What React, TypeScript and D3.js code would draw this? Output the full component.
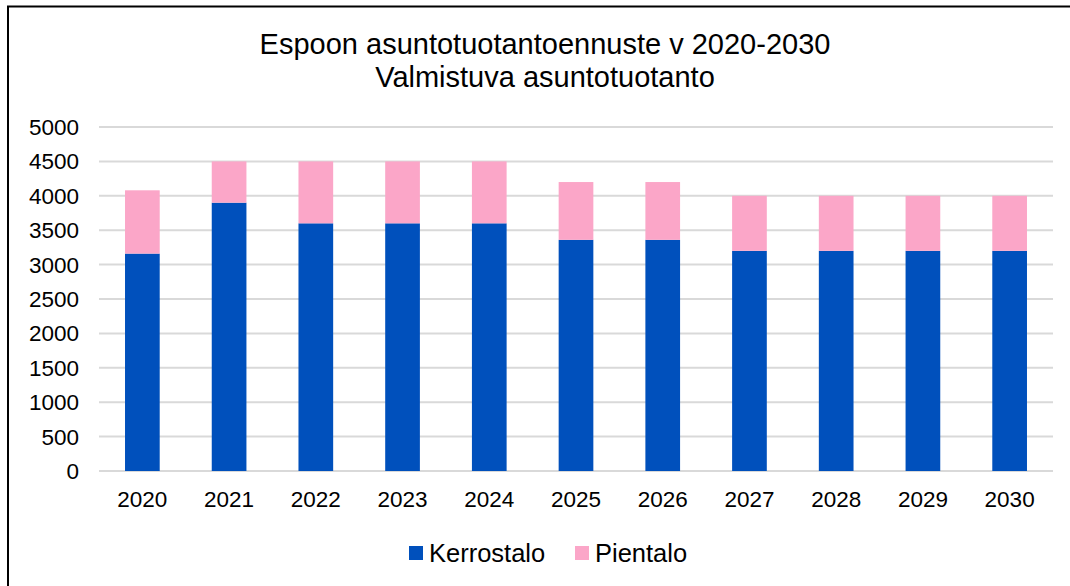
import React, { useEffect, useRef } from "react";
import * as d3 from "d3";

const years = ["2020", "2021", "2022", "2023", "2024", "2025", "2026", "2027", "2028", "2029", "2030"];
const kerrostalo = [3160, 3900, 3600, 3600, 3600, 3360, 3360, 3200, 3200, 3200, 3200];
const pientalo = [920, 600, 900, 900, 900, 840, 840, 800, 800, 800, 800];
const yTicks = [0, 500, 1000, 1500, 2000, 2500, 3000, 3500, 4000, 4500, 5000];
const seriesNames = ["Kerrostalo", "Pientalo"];
const colors = ["#0050BC", "#FBA6C8"];

const W = 1070;
const H = 586;
const font = "Arial, 'Liberation Sans', sans-serif";

export default function App() {
  const ref = useRef<SVGSVGElement>(null);

  useEffect(() => {
    const svg = d3.select(ref.current);
    svg.selectAll("*").remove();

    const margin = { top: 127, left: 99, right: 17, bottom: 115 };
    const innerW = W - margin.left - margin.right;
    const innerH = H - margin.top - margin.bottom;

    // outer frame (runs off the page on right/bottom)
    svg.append("rect")
      .attr("x", 8).attr("y", 6.5)
      .attr("width", 1200).attr("height", 800)
      .attr("fill", "white").attr("stroke", "#000").attr("stroke-width", 2);

    const title = svg.append("text")
      .attr("text-anchor", "middle")
      .attr("font-family", font).attr("font-size", 29).attr("fill", "#000");
    title.append("tspan").attr("x", 545).attr("y", 54).text("Espoon asuntotuotantoennuste v 2020-2030");
    title.append("tspan").attr("x", 545).attr("y", 87).text("Valmistuva asuntotuotanto");

    const x = d3.scaleBand().domain(years).range([0, innerW]).paddingInner(0.6).paddingOuter(0.3);
    const y = d3.scaleLinear().domain([0, 5000]).range([innerH, 0]);

    const g = svg.append("g").attr("transform", `translate(${margin.left},${margin.top})`);

    g.selectAll(".grid")
      .data(yTicks)
      .enter().append("line")
      .attr("x1", 0).attr("x2", innerW)
      .attr("y1", d => y(d)).attr("y2", d => y(d))
      .attr("stroke", "#D9D9D9").attr("stroke-width", 2);

    g.selectAll(".ylab")
      .data(yTicks)
      .enter().append("text")
      .attr("x", -20).attr("y", d => y(d) + 8)
      .attr("text-anchor", "end")
      .attr("font-family", font).attr("font-size", 22.5).attr("fill", "#000")
      .text(d => d);

    const rows = years.map((yr, i) => ({ year: yr, Kerrostalo: kerrostalo[i], Pientalo: pientalo[i] }));
    const stack = d3.stack<any>().keys(seriesNames)(rows);

    stack.forEach((s, si) => {
      g.selectAll(`.bar${si}`)
        .data(s)
        .enter().append("rect")
        .attr("x", d => x(d.data.year)!)
        .attr("width", x.bandwidth())
        .attr("y", d => y(d[1]))
        .attr("height", d => y(d[0]) - y(d[1]))
        .attr("fill", colors[si]);
    });

    g.selectAll(".xlab")
      .data(years)
      .enter().append("text")
      .attr("x", d => x(d)! + x.bandwidth() / 2)
      .attr("y", innerH + 36)
      .attr("text-anchor", "middle")
      .attr("font-family", font).attr("font-size", 22.5).attr("fill", "#000")
      .text(d => d);

    // legend
    const legendX = [409, 575];
    seriesNames.forEach((name, i) => {
      svg.append("rect")
        .attr("x", legendX[i]).attr("y", 546)
        .attr("width", 14).attr("height", 14)
        .attr("fill", colors[i]);
      svg.append("text")
        .attr("x", legendX[i] + 20).attr("y", 561.5)
        .attr("font-family", font).attr("font-size", 25.5).attr("fill", "#000")
        .text(name);
    });
  }, []);

  return (
    <svg
      ref={ref}
      width={W}
      height={H}
      style={{ position: "absolute", left: 0, top: 0, background: "white" }}
    />
  );
}
